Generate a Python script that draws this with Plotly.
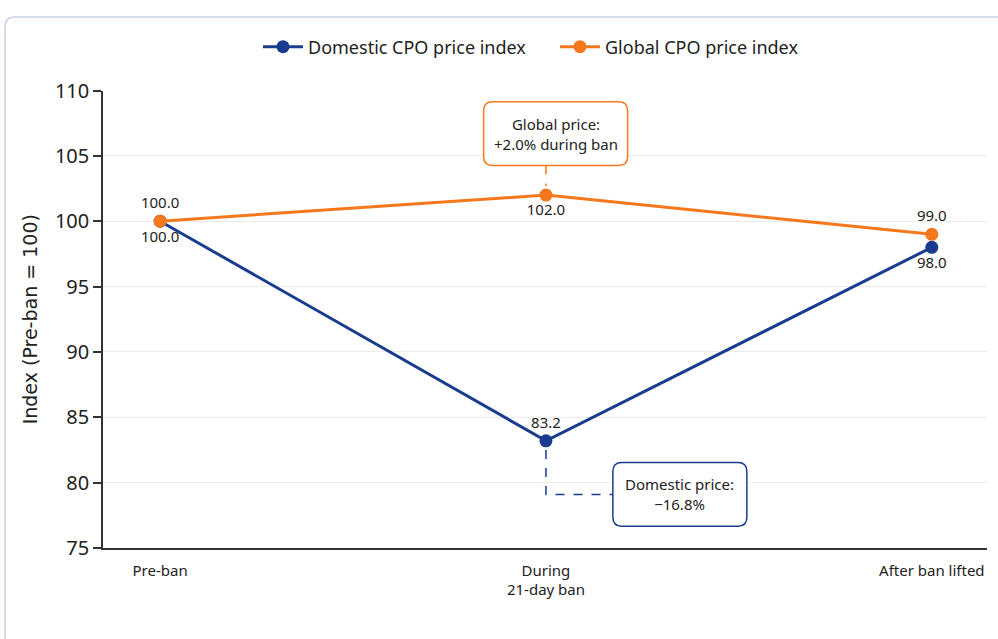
import plotly.graph_objects as go

categories = ["Pre-ban", "During<br>21-day ban", "After ban lifted"]
domestic = [100.0, 83.2, 98.0]
global_ = [100.0, 102.0, 99.0]
domestic_textpos = ["bottom center", "top center", "bottom center"]
global_textpos = ["top center", "bottom center", "top center"]
y_ticks = [75, 80, 85, 90, 95, 100, 105, 110]

BLUE = "#1a3c8e"
ORANGE = "#f5781c"
TXT = "#222222"
FONT = "Noto Sans"

W, H = 998, 639
ML, MR, MT, MB = 103, 11, 88, 91
XR = [-0.148, 2.143]
YR = [75, 110]
pw, ph = W - ML - MR, H - MT - MB
px_x = (XR[1] - XR[0]) / pw      # x units per pixel
px_y = (YR[1] - YR[0]) / ph      # y units per pixel

fig = go.Figure()
fig.add_trace(go.Scatter(
    x=categories, y=domestic, name="Domestic CPO price index",
    mode="lines+markers+text", line=dict(color=BLUE, width=3),
    marker=dict(color=BLUE, size=13),
    text=[f"{v:.1f}" for v in domestic], textposition=domestic_textpos,
    textfont=dict(size=15, color=TXT, family=FONT), cliponaxis=False))
fig.add_trace(go.Scatter(
    x=categories, y=global_, name="Global CPO price index",
    mode="lines+markers+text", line=dict(color=ORANGE, width=3),
    marker=dict(color=ORANGE, size=13),
    text=[f"{v:.1f}" for v in global_], textposition=global_textpos,
    textfont=dict(size=15, color=TXT, family=FONT), cliponaxis=False))


def rounded_box(cx, cy, wpx, hpx, rpx):
    w2, h2 = wpx / 2 * px_x, hpx / 2 * px_y
    rx, ry = rpx * px_x, rpx * px_y
    x0, x1, y0, y1 = cx - w2, cx + w2, cy - h2, cy + h2
    return (f"M {x0+rx},{y1} L {x1-rx},{y1} Q {x1},{y1} {x1},{y1-ry} "
            f"L {x1},{y0+ry} Q {x1},{y0} {x1-rx},{y0} L {x0+rx},{y0} "
            f"Q {x0},{y0} {x0},{y0+ry} L {x0},{y1-ry} Q {x0},{y1} {x0+rx},{y1} Z")


# Global callout
g_cx, g_cy, g_w, g_h = 1.025, 106.7, 144, 64
fig.add_shape(type="path", path=rounded_box(g_cx, g_cy, g_w, g_h, 9),
              line=dict(color=ORANGE, width=1.5), fillcolor="white", layer="above")
fig.add_annotation(x=g_cx, y=g_cy, text="Global price:<br>+2.0% during ban",
                   showarrow=False, font=dict(size=15, color=TXT, family=FONT))
fig.add_shape(type="line", x0=1, x1=1, y0=g_cy - g_h / 2 * px_y, y1=global_[1] + 0.7,
              line=dict(color=ORANGE, width=1.5, dash="dash"))

# Domestic callout
d_cx, d_cy, d_w, d_h = 1.347, 79.1, 134, 64
fig.add_shape(type="path", path=rounded_box(d_cx, d_cy, d_w, d_h, 9),
              line=dict(color=BLUE, width=1.5), fillcolor="white", layer="above")
fig.add_annotation(x=d_cx, y=d_cy, text="Domestic price:<br>\u221216.8%",
                   showarrow=False, font=dict(size=15, color=TXT, family=FONT))
fig.add_shape(type="path",
              path=f"M 1,{domestic[1]-0.7} L 1,{d_cy} L {d_cx - d_w/2*px_x},{d_cy}",
              line=dict(color=BLUE, width=1.5, dash="dash"))

# Card border (rounded, top-left visible)
def pxx(p):
    return (p - ML) / pw

def pxy(p):
    return (H - MB - p) / ph

cl, ct, r = pxx(5), pxy(14), 10
fig.add_shape(type="path", xref="paper", yref="paper",
              path=(f"M {cl},{pxy(700)} L {cl},{ct - r/ph} Q {cl},{ct} {cl + r/pw},{ct} "
                    f"L {pxx(1100)},{ct}"),
              line=dict(color="#c8d1e4", width=1.5), layer="below")

fig.update_layout(
    width=W, height=H, margin=dict(l=ML, r=MR, t=MT, b=MB),
    paper_bgcolor="white", plot_bgcolor="white",
    font=dict(family=FONT, color=TXT),
    showlegend=True,
    legend=dict(orientation="h", xref="container", yref="container",
                x=258 / W, xanchor="left", y=1 - 47 / H, yanchor="middle",
                font=dict(size=18, color=TXT, family=FONT), itemwidth=40,
                entrywidth=242, entrywidthmode="pixels",
                bgcolor="rgba(0,0,0,0)"),
    xaxis=dict(range=XR, showgrid=False, showline=True, linecolor="#333333", linewidth=1.5,
               ticks="", tickfont=dict(size=15, color=TXT, family=FONT),
               ticklabelstandoff=8, zeroline=False),
    yaxis=dict(range=YR, tickvals=y_ticks, showgrid=True, gridcolor="#ebebeb", gridwidth=1,
               showline=True, linecolor="#333333", linewidth=1.5, ticks="outside",
               ticklen=8, tickcolor="#333333", tickwidth=1.5,
               tickfont=dict(size=20, color=TXT, family=FONT), zeroline=False,
               title=dict(text="Index (Pre-ban = 100)", standoff=12,
                          font=dict(size=19, color=TXT, family="DejaVu Sans"))),
)

fig.write_html("out.html")
